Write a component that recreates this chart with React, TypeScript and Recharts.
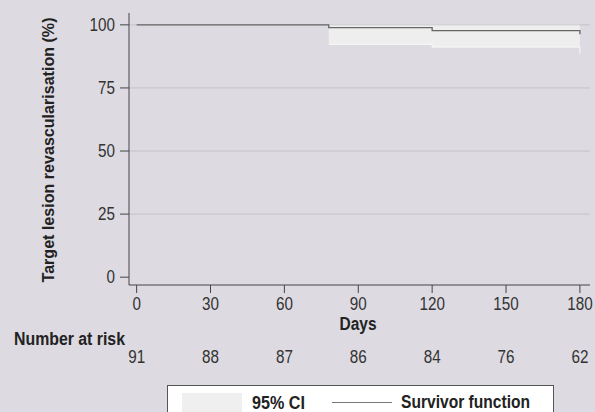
import React from 'react';
import { ComposedChart, Area, Line, XAxis, YAxis, ReferenceLine, Customized } from 'recharts';

const days = [0, 78, 120, 180];
const survival = [100, 98.9, 97.7, 96.3];
const ciLower = [null, 92.3, 91.2, 88.6];
const ciUpper = [null, 100, 100, 100];

const xTicks = [0, 30, 60, 90, 120, 150, 180];
const atRisk = [91, 88, 87, 86, 84, 76, 62];
const yTicks = [0, 25, 50, 75, 100];
const gridValues = [25, 50, 75, 100];

const data = days.map((d, i) => ({
  day: d,
  surv: survival[i],
  ci: ciLower[i] == null ? null : [ciLower[i], ciUpper[i]],
}));

const FONT = "'Liberation Sans', Arial, sans-serif";
const BG = '#dddae1';
const SX = 0.87;

const NarrowText = ({ x, y, anchor, children, size = 17.5, fill = '#333' }: any) => (
  <g transform={`translate(${x},${y}) scale(${SX},1)`}>
    <text x={0} y={0} textAnchor={anchor} fill={fill} fontSize={size} fontFamily={FONT}>
      {children}
    </text>
  </g>
);

const XTick = (props: any) => {
  const { x, y, payload } = props;
  const idx = xTicks.indexOf(payload.value);
  return (
    <g>
      <NarrowText x={x} y={y + 15} anchor="middle">{payload.value}</NarrowText>
      <NarrowText x={x} y={y + 68} anchor="middle">{idx >= 0 ? atRisk[idx] : ''}</NarrowText>
    </g>
  );
};

const YTick = (props: any) => {
  const { x, y, payload } = props;
  return <NarrowText x={x} y={y + 6} anchor="end">{payload.value}</NarrowText>;
};

const Bold = ({ x, y, len, anchor = 'start', children, transform, size = 18 }: any) => (
  <text
    x={x}
    y={y}
    textAnchor={anchor}
    fontSize={size}
    fontWeight="bold"
    fontFamily={FONT}
    fill="#222"
    textLength={len}
    lengthAdjust="spacingAndGlyphs"
    transform={transform}
  >
    {children}
  </text>
);

const Texts = () => (
  <g>
    <Bold x={358} y={330} len={37} anchor="middle">Days</Bold>
    <Bold x={14} y={345} len={111}>Number at risk</Bold>
    <Bold x={0} y={0} len={265} anchor="middle" size={17} transform="translate(54 150) rotate(-90)">
      Target lesion revascularisation (%)
    </Bold>
    {/* legend */}
    <rect x={167.5} y={385.5} width={386} height={40} fill="#fff" stroke="#555" strokeWidth={1} />
    <rect x={182} y={393} width={60} height={30} fill="#efefef" />
    <Bold x={252} y={409} len={53}>95% CI</Bold>
    <line x1={332} x2={392} y1={402.5} y2={402.5} stroke="#777" strokeWidth={1} />
    <Bold x={401} y={408} len={129}>Survivor function</Bold>
  </g>
);

export default function App() {
  return (
    <div
      style={{
        position: 'absolute',
        left: 0,
        top: 0,
        width: 595,
        height: 412,
        background: BG,
        overflow: 'hidden',
      }}
    >
      <ComposedChart
        width={595}
        height={412}
        data={data}
        margin={{ top: 13, right: 5, left: 0, bottom: 0 }}
      >
        <XAxis
          dataKey="day"
          type="number"
          domain={[-3.1, 184.1]}
          ticks={xTicks}
          tickSize={8}
          tickMargin={2}
          height={127}
          stroke="#444"
          tick={<XTick />}
          allowDataOverflow
        />
        <YAxis
          type="number"
          domain={[-3.1, 104.7]}
          ticks={yTicks}
          tickSize={9}
          tickMargin={5}
          width={129}
          stroke="#444"
          tick={<YTick />}
          allowDataOverflow
        />
        {gridValues.map((v) => (
          <ReferenceLine key={v} y={v} stroke="#c4c3c8" strokeWidth={1} />
        ))}
        <Area
          dataKey="ci"
          type="stepAfter"
          fill="#efeeee"
          fillOpacity={1}
          stroke="#fafafa"
          strokeWidth={1}
          isAnimationActive={false}
          connectNulls={false}
        />
        <Line
          dataKey="surv"
          type="stepAfter"
          stroke="#666"
          strokeWidth={1.3}
          dot={false}
          isAnimationActive={false}
        />
        <Customized component={Texts} />
      </ComposedChart>
    </div>
  );
}
